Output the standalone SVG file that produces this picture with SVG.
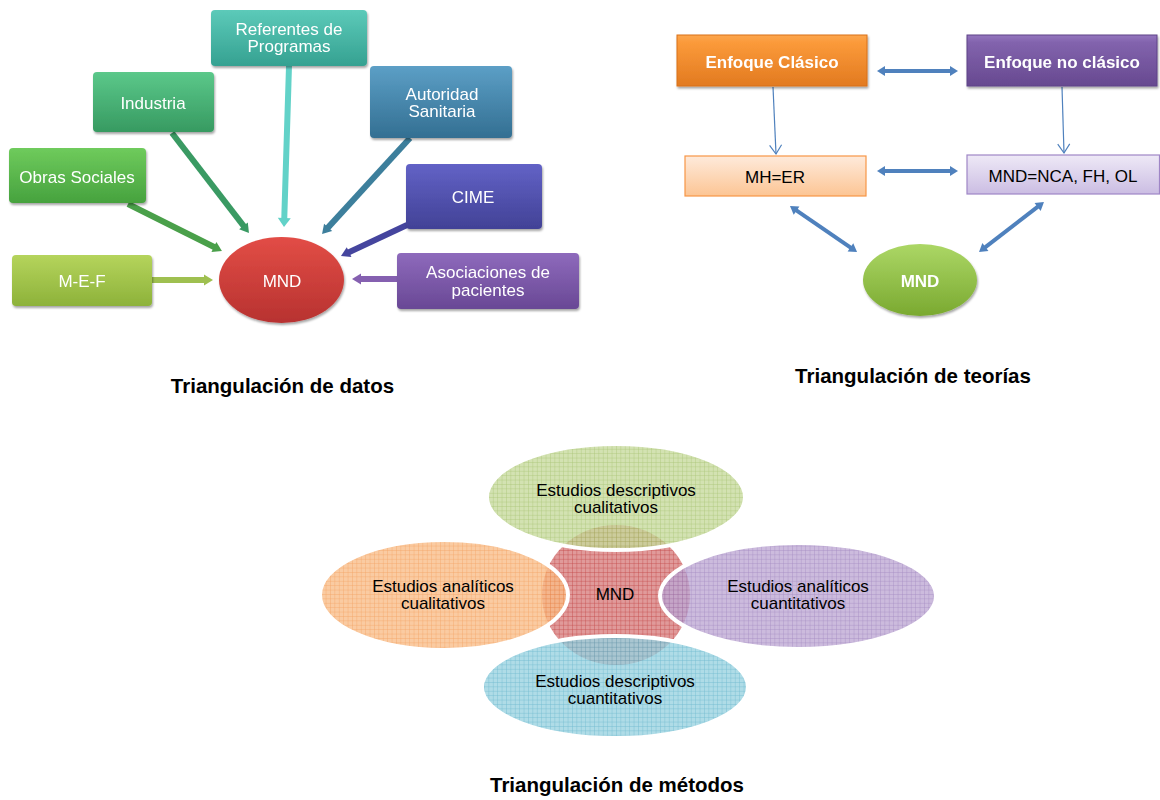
<svg xmlns="http://www.w3.org/2000/svg" width="1160" height="800" viewBox="0 0 1160 800">
<style>
  text { font-family: "Liberation Sans", Arial, sans-serif; }
  .wt { fill: #ffffff; font-size: 17px; text-anchor: middle; }
  .wb { fill: #ffffff; font-size: 17px; font-weight: bold; text-anchor: middle; }
  .bt { fill: #000000; font-size: 17px; text-anchor: middle; }
  .title { fill: #000000; font-size: 20.5px; font-weight: bold; text-anchor: middle; }
  .thick { fill: none; stroke-width: 6; }
  .dbl { fill: none; stroke: #4f81bd; stroke-width: 4; marker-start: url(#mb); marker-end: url(#mb); }
  .thin { fill: none; stroke: #4f81bd; stroke-width: 1.2; marker-end: url(#mv); }
  .venn { stroke: #ffffff; stroke-width: 4; fill-opacity: 0.78; }
</style>
<defs>
  <filter id="sh" x="-10%" y="-10%" width="125%" height="135%">
    <feDropShadow dx="1" dy="2" stdDeviation="1.3" flood-color="#000" flood-opacity="0.35"/>
  </filter>
  <linearGradient id="gRef" x1="0" y1="0" x2="0" y2="1"><stop offset="0" stop-color="#5ccab9"/><stop offset="1" stop-color="#35a191"/></linearGradient>
  <linearGradient id="gInd" x1="0" y1="0" x2="0" y2="1"><stop offset="0" stop-color="#5bc88a"/><stop offset="1" stop-color="#379a61"/></linearGradient>
  <linearGradient id="gObr" x1="0" y1="0" x2="0" y2="1"><stop offset="0" stop-color="#6fcb5c"/><stop offset="1" stop-color="#46a23e"/></linearGradient>
  <linearGradient id="gMef" x1="0" y1="0" x2="0" y2="1"><stop offset="0" stop-color="#b5d45c"/><stop offset="1" stop-color="#8db23a"/></linearGradient>
  <linearGradient id="gAut" x1="0" y1="0" x2="0" y2="1"><stop offset="0" stop-color="#5c9fc6"/><stop offset="1" stop-color="#336f92"/></linearGradient>
  <linearGradient id="gCim" x1="0" y1="0" x2="0" y2="1"><stop offset="0" stop-color="#6262c6"/><stop offset="1" stop-color="#424296"/></linearGradient>
  <linearGradient id="gAso" x1="0" y1="0" x2="0" y2="1"><stop offset="0" stop-color="#8e6abc"/><stop offset="1" stop-color="#694895"/></linearGradient>
  <linearGradient id="gRed" x1="0" y1="0" x2="0" y2="1"><stop offset="0" stop-color="#e24d46"/><stop offset="1" stop-color="#b73230"/></linearGradient>
  <linearGradient id="gOrg" x1="0" y1="0" x2="0" y2="1"><stop offset="0" stop-color="#fca64e"/><stop offset="0.15" stop-color="#fb9a3a"/><stop offset="1" stop-color="#e27a20"/></linearGradient>
  <linearGradient id="gPur" x1="0" y1="0" x2="0" y2="1"><stop offset="0" stop-color="#9476be"/><stop offset="0.15" stop-color="#8263ad"/><stop offset="1" stop-color="#674990"/></linearGradient>
  <linearGradient id="gPeach" x1="0" y1="0" x2="0" y2="1"><stop offset="0" stop-color="#feeadb"/><stop offset="1" stop-color="#fcc594"/></linearGradient>
  <linearGradient id="gLav" x1="0" y1="0" x2="0" y2="1"><stop offset="0" stop-color="#eee9f6"/><stop offset="1" stop-color="#cbbde3"/></linearGradient>
  <linearGradient id="gGrn" x1="0" y1="0" x2="0" y2="1"><stop offset="0" stop-color="#acd766"/><stop offset="1" stop-color="#7aa930"/></linearGradient>

  <pattern id="pRed" patternUnits="userSpaceOnUse" width="4.4" height="4.4">
    <rect width="4.4" height="4.4" fill="#e09a9a"/>
    <path d="M0 0H4.4M0 0V4.4" stroke="#c44848" stroke-width="0.8"/>
  </pattern>
  <pattern id="pGrnV" patternUnits="userSpaceOnUse" width="4.4" height="4.4">
    <rect width="4.4" height="4.4" fill="#c7da9c"/>
    <path d="M0 0H4.4M0 0V4.4" stroke="#93b552" stroke-width="0.8"/>
  </pattern>
  <pattern id="pOrgV" patternUnits="userSpaceOnUse" width="4.4" height="4.4">
    <rect width="4.4" height="4.4" fill="#f9bd88"/>
    <path d="M0 0H4.4M0 0V4.4" stroke="#f08a3a" stroke-width="0.8"/>
  </pattern>
  <pattern id="pPurV" patternUnits="userSpaceOnUse" width="4.4" height="4.4">
    <rect width="4.4" height="4.4" fill="#bea8d4"/>
    <path d="M0 0H4.4M0 0V4.4" stroke="#8a6bb0" stroke-width="0.8"/>
  </pattern>
  <pattern id="pBluV" patternUnits="userSpaceOnUse" width="4.4" height="4.4">
    <rect width="4.4" height="4.4" fill="#99d2e0"/>
    <path d="M0 0H4.4M0 0V4.4" stroke="#45a7c2" stroke-width="0.8"/>
  </pattern>

  <marker id="aMef" markerUnits="userSpaceOnUse" markerWidth="10" markerHeight="11" refX="3" refY="5.5" orient="auto" overflow="visible"><path d="M0,0 L9,5.5 L0,11 z" fill="#9fc050"/></marker>
  <marker id="aObr" markerUnits="userSpaceOnUse" markerWidth="10" markerHeight="11" refX="3" refY="5.5" orient="auto" overflow="visible"><path d="M0,0 L9,5.5 L0,11 z" fill="#4aa04a"/></marker>
  <marker id="aInd" markerUnits="userSpaceOnUse" markerWidth="10" markerHeight="11" refX="3" refY="5.5" orient="auto" overflow="visible"><path d="M0,0 L9,5.5 L0,11 z" fill="#3a9a63"/></marker>
  <marker id="aRef" markerUnits="userSpaceOnUse" markerWidth="10" markerHeight="11" refX="3" refY="5.5" orient="auto" overflow="visible"><path d="M0,-1 L9,5.5 L0,12 z" fill="#62d2c8"/></marker>
  <marker id="aAut" markerUnits="userSpaceOnUse" markerWidth="10" markerHeight="11" refX="3" refY="5.5" orient="auto" overflow="visible"><path d="M0,0 L9,5.5 L0,11 z" fill="#3d7f9c"/></marker>
  <marker id="aCim" markerUnits="userSpaceOnUse" markerWidth="10" markerHeight="11" refX="3" refY="5.5" orient="auto" overflow="visible"><path d="M0,0 L9,5.5 L0,11 z" fill="#45459e"/></marker>
  <marker id="aAso" markerUnits="userSpaceOnUse" markerWidth="10" markerHeight="11" refX="3" refY="5.5" orient="auto" overflow="visible"><path d="M0,0 L9,5.5 L0,11 z" fill="#8560b0"/></marker>
  <marker id="mb" markerUnits="userSpaceOnUse" markerWidth="9" markerHeight="10" refX="2" refY="5" orient="auto-start-reverse" overflow="visible"><path d="M0,0 L8,5 L0,10 z" fill="#4f81bd"/></marker>
  <marker id="mv" markerUnits="userSpaceOnUse" markerWidth="12" markerHeight="12" refX="9" refY="6" orient="auto" overflow="visible"><path d="M0,0 L9,6 L0,12" fill="none" stroke="#4f81bd" stroke-width="1.2"/></marker>
</defs>

<rect width="1160" height="800" fill="#ffffff"/>

<!-- ===== Triangulación de datos ===== -->
<g id="connectors-datos">
  <line class="thick" x1="152" y1="280" x2="207" y2="280" stroke="#9fc050" marker-end="url(#aMef)"/>
  <line class="thick" x1="128" y1="204" x2="216.6" y2="248.3" stroke="#4aa04a" marker-end="url(#aObr)"/>
  <line class="thick" x1="172" y1="133" x2="245.3" y2="228.2" stroke="#3a9a63" marker-end="url(#aInd)"/>
  <line class="thick" x1="289" y1="66" x2="284.2" y2="221" stroke="#62d2c8" stroke-width="7" marker-end="url(#aRef)"/>
  <line class="thick" x1="410" y1="138" x2="326.1" y2="229.6" stroke="#3d7f9c" marker-end="url(#aAut)"/>
  <line class="thick" x1="407" y1="225" x2="346.4" y2="253.4" stroke="#45459e" marker-end="url(#aCim)"/>
  <line class="thick" x1="397" y1="279" x2="358" y2="279" stroke="#8560b0" marker-end="url(#aAso)"/>
</g>

<g id="n-referentes" filter="url(#sh)">
  <rect x="211" y="10" width="156" height="56" rx="4" fill="url(#gRef)"/>
  <text class="wt" x="289" y="35">Referentes de</text>
  <text class="wt" x="289" y="52">Programas</text>
</g>
<g id="n-industria" filter="url(#sh)">
  <rect x="93" y="72" width="121" height="60" rx="4" fill="url(#gInd)"/>
  <text class="wt" x="153" y="109">Industria</text>
</g>
<g id="n-obras" filter="url(#sh)">
  <rect x="9" y="148" width="137" height="55" rx="4" fill="url(#gObr)"/>
  <text class="wt" x="77" y="183">Obras Sociales</text>
</g>
<g id="n-mef" filter="url(#sh)">
  <rect x="12" y="255" width="140" height="51" rx="4" fill="url(#gMef)"/>
  <text class="wt" x="82" y="287">M-E-F</text>
</g>
<g id="n-autoridad" filter="url(#sh)">
  <rect x="370" y="66" width="142" height="72" rx="4" fill="url(#gAut)"/>
  <text class="wt" x="442" y="100">Autoridad</text>
  <text class="wt" x="442" y="117">Sanitaria</text>
</g>
<g id="n-cime" filter="url(#sh)">
  <rect x="406" y="164" width="136" height="65" rx="4" fill="url(#gCim)"/>
  <text class="wt" x="473" y="203">CIME</text>
</g>
<g id="n-asociaciones" filter="url(#sh)">
  <rect x="397" y="253" width="182" height="56" rx="4" fill="url(#gAso)"/>
  <text class="wt" x="488" y="278">Asociaciones de</text>
  <text class="wt" x="488" y="296">pacientes</text>
</g>
<g id="n-mnd-datos" filter="url(#sh)">
  <ellipse cx="281.5" cy="280" rx="62.5" ry="43" fill="url(#gRed)"/>
  <text class="wt" x="282" y="287">MND</text>
</g>
<text class="title" x="282.5" y="393">Triangulación de datos</text>

<!-- ===== Triangulación de teorías ===== -->
<g id="connectors-teorias">
  <line class="dbl" x1="883" y1="71" x2="952" y2="71"/>
  <line class="dbl" x1="883" y1="171" x2="952" y2="171"/>
  <line class="thin" x1="773" y1="87" x2="776" y2="154"/>
  <line class="thin" x1="1062" y1="87" x2="1064" y2="153"/>
  <line class="dbl" x1="794.9" y1="209.4" x2="852.1" y2="248.6"/>
  <line class="dbl" x1="1039.2" y1="205.7" x2="983.8" y2="248.3"/>
</g>
<g id="n-enfoque-clasico" filter="url(#sh)">
  <rect x="677" y="35" width="190" height="51" fill="url(#gOrg)" stroke="#d9701a" stroke-width="1"/>
  <text class="wb" x="772" y="68">Enfoque Clásico</text>
</g>
<g id="n-enfoque-no-clasico" filter="url(#sh)">
  <rect x="967" y="35" width="190" height="51" fill="url(#gPur)" stroke="#5e4387" stroke-width="1"/>
  <text class="wb" x="1062" y="68">Enfoque no clásico</text>
</g>
<g id="n-mh-er">
  <rect x="685" y="156" width="181" height="40" fill="url(#gPeach)" stroke="#f79646" stroke-width="1.2"/>
  <text class="bt" x="775" y="183">MH=ER</text>
</g>
<g id="n-mnd-nca">
  <rect x="967" y="155" width="192.5" height="39" fill="url(#gLav)" stroke="#9f86c6" stroke-width="1.2"/>
  <text class="bt" x="1063" y="182">MND=NCA, FH, OL</text>
</g>
<g id="n-mnd-teorias" filter="url(#sh)">
  <ellipse cx="920" cy="280" rx="57" ry="36" fill="url(#gGrn)"/>
  <text class="wb" x="920" y="287" font-size="18">MND</text>
</g>
<text class="title" x="913" y="383">Triangulación de teorías</text>

<!-- ===== Triangulación de métodos ===== -->
<g id="n-mnd-metodos-shape">
  <ellipse cx="616" cy="595" rx="74" ry="70" fill="url(#pRed)"/>
</g>
<g id="n-desc-cual">
  <ellipse class="venn" cx="616" cy="497" rx="129" ry="53" fill="url(#pGrnV)"/>
  <text class="bt" x="616" y="496">Estudios descriptivos</text>
  <text class="bt" x="616" y="513">cualitativos</text>
</g>
<g id="n-anal-cual">
  <ellipse class="venn" cx="444" cy="595" rx="124" ry="55" fill="url(#pOrgV)"/>
  <text class="bt" x="443" y="592">Estudios analíticos</text>
  <text class="bt" x="443" y="609">cualitativos</text>
</g>
<g id="n-anal-cuant">
  <ellipse class="venn" cx="798" cy="596" rx="138" ry="53" fill="url(#pPurV)"/>
  <text class="bt" x="798" y="592">Estudios analíticos</text>
  <text class="bt" x="798" y="609">cuantitativos</text>
</g>
<g id="n-desc-cuant">
  <ellipse class="venn" cx="615" cy="687" rx="133" ry="51" fill="url(#pBluV)"/>
  <text class="bt" x="615" y="687">Estudios descriptivos</text>
  <text class="bt" x="615" y="704">cuantitativos</text>
</g>
<g id="n-mnd-metodos">
  <text class="bt" x="615" y="600">MND</text>
</g>
<text class="title" x="617" y="792">Triangulación de métodos</text>
</svg>
